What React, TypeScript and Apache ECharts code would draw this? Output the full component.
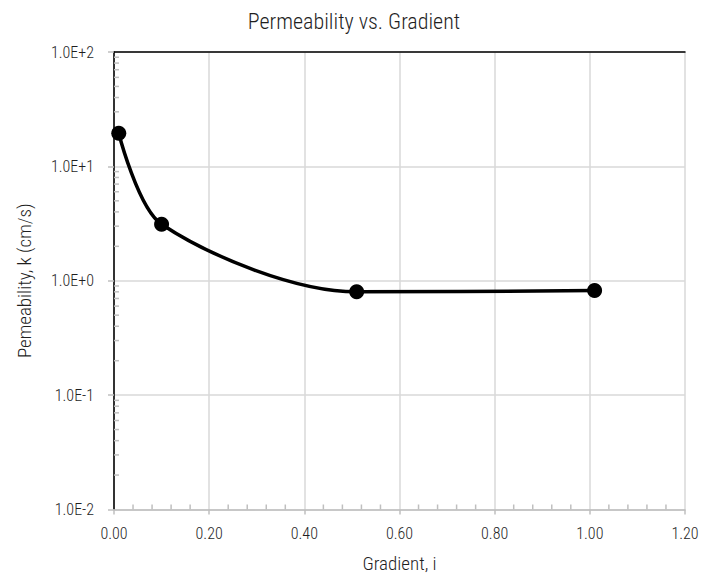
import React, { useEffect, useRef } from "react";
import * as echarts from "echarts";

const gradient = [0.01, 0.1, 0.51, 1.01];
const permeability = [19.5, 3.12, 0.8, 0.82];
const xMinorTicks = [
  0.04, 0.08, 0.12, 0.16, 0.24, 0.28, 0.32, 0.36, 0.44, 0.48, 0.52, 0.56,
  0.64, 0.68, 0.72, 0.76, 0.84, 0.88, 0.92, 0.96, 1.04, 1.08, 1.12, 1.16,
];
const yDecades = [0.01, 0.1, 1, 10];
const yMinorMultipliers = [2, 3, 4, 5, 6, 7, 8, 9];

const FONT = "'Roboto Condensed', 'DejaVu Sans Condensed', sans-serif";
const TEXT = "#1f1f1f";
const AXIS = "#bfbfbf";

export default function App() {
  const ref = useRef<HTMLDivElement>(null);
  useEffect(() => {
    if (!ref.current) return;
    const chart = echarts.init(ref.current, null, { renderer: "svg" });
    const minorData: number[][] = [];
    xMinorTicks.forEach((v) => minorData.push([v, 0.01, 0]));
    yDecades.forEach((d) =>
      yMinorMultipliers.forEach((m) => minorData.push([0, +(d * m).toPrecision(3), 1]))
    );
    chart.setOption({
      animation: false,
      backgroundColor: "#ffffff",
      textStyle: { fontFamily: FONT },
      title: {
        text: "Permeability vs. Gradient",
        left: "center",
        top: 5,
        textStyle: { fontFamily: FONT, fontSize: 22, fontWeight: 300, color: TEXT },
      },
      grid: { left: 114, right: 23, top: 52, bottom: 70.5, containLabel: false },
      xAxis: [
        {
          type: "value",
          min: 0,
          max: 1.2,
          interval: 0.2,
          name: "Gradient, i",
          nameLocation: "middle",
          nameGap: 44,
          nameTextStyle: { fontFamily: FONT, fontSize: 19, fontWeight: 300, color: TEXT },
          axisLine: { show: true, lineStyle: { color: AXIS, width: 1.5 } },
          axisTick: { show: true, length: 5, lineStyle: { color: AXIS, width: 1.5 } },
          axisLabel: {
            fontFamily: FONT,
            fontSize: 16,
            fontWeight: 300,
            color: TEXT,
            margin: 16,
            formatter: (v: number) => v.toFixed(2),
          },
          splitLine: { show: true, lineStyle: { color: "#d9d9d9", width: 1.5 } },
        },
        {
          type: "value",
          position: "top",
          min: 0,
          max: 1.2,
          interval: 0.2,
          axisLine: { show: true, lineStyle: { color: "#000000", width: 1.5 } },
          axisTick: { show: false },
          axisLabel: { show: false },
          splitLine: { show: false },
        },
      ],
      yAxis: [
        {
          type: "log",
          logBase: 10,
          min: 0.01,
          max: 100,
          name: "Pemeability, k (cm/s)",
          nameLocation: "middle",
          nameGap: 80,
          nameTextStyle: { fontFamily: FONT, fontSize: 19, fontWeight: 300, color: TEXT },
          axisLine: { show: true, lineStyle: { color: AXIS, width: 1.5 } },
          axisTick: { show: true, length: 6, lineStyle: { color: AXIS, width: 1.5 } },
          axisLabel: {
            fontFamily: FONT,
            fontSize: 16,
            fontWeight: 300,
            color: TEXT,
            margin: 20,
            formatter: (v: number) => v.toExponential(1).toUpperCase(),
          },
          splitLine: { show: true, lineStyle: { color: "#d9d9d9", width: 1.5 } },
        },
        {
          type: "value",
          position: "right",
          min: 0,
          max: 1,
          axisLine: { show: true, lineStyle: { color: "#000000", width: 1.5 } },
          axisTick: { show: false },
          axisLabel: { show: false },
          splitLine: { show: false },
        },
      ],
      series: [
        {
          type: "custom",
          xAxisIndex: 0,
          yAxisIndex: 0,
          silent: true,
          clip: false,
          z: 3,
          data: minorData,
          renderItem: (params: any, api: any) => {
            const x = api.value(0);
            const y = api.value(1);
            const kind = api.value(2);
            const p = api.coord([x, y]);
            const shape =
              kind === 0
                ? { x1: p[0], y1: p[1], x2: p[0], y2: p[1] - 5 }
                : { x1: p[0], y1: p[1], x2: p[0] + 5, y2: p[1] };
            return {
              type: "line",
              shape,
              style: { stroke: AXIS, lineWidth: 1.5 },
            };
          },
        },
        {
          type: "line",
          xAxisIndex: 0,
          yAxisIndex: 0,
          data: gradient.map((g, i) => [g, permeability[i]]),
          smooth: 0.3,
          symbol: "circle",
          symbolSize: 15,
          z: 5,
          lineStyle: { color: "#000000", width: 3.5 },
          itemStyle: { color: "#000000" },
        },
      ],
    });
    return () => chart.dispose();
  }, []);
  return (
    <div
      ref={ref}
      style={{ position: "fixed", left: 0, top: 0, width: 708, height: 580 }}
    />
  );
}
